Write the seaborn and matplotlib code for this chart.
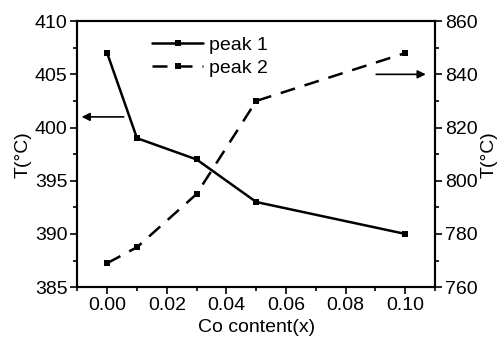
import numpy as np
import pandas as pd
import seaborn as sns
import matplotlib.pyplot as plt
from matplotlib.ticker import MultipleLocator

co = [0.00, 0.01, 0.03, 0.05, 0.10]
peak1 = [407, 399, 397, 393, 390]
peak2 = [769, 775, 795, 830, 848]

sns.set_style('ticks')
plt.rcParams['font.family'] = ['Liberation Sans', 'DejaVu Sans']
plt.rcParams['font.size'] = 14
plt.rcParams['text.color'] = 'black'
plt.rcParams['axes.labelcolor'] = 'black'
plt.rcParams['xtick.color'] = 'black'
plt.rcParams['ytick.color'] = 'black'

fig, ax = plt.subplots(figsize=(4.99, 3.41), dpi=100)
ax2 = ax.twinx()

d1 = pd.DataFrame({'x': co, 'T': peak1})
d2 = pd.DataFrame({'x': co, 'T': peak2})
sns.lineplot(data=d1, x='x', y='T', ax=ax, color='black', lw=1.8,
             marker='s', markersize=4, markeredgewidth=0, label='peak 1', legend=False)
sns.lineplot(data=d2, x='x', y='T', ax=ax2, color='black', lw=1.8,
             marker='s', markersize=4, markeredgewidth=0, label='peak 2', legend=False)
ax2.lines[0].set_dashes([6, 4])

ax.set_xlim(-0.01, 0.11)
ax.set_ylim(385, 410)
ax2.set_ylim(760, 860)
ax.set_xticks([0.00, 0.02, 0.04, 0.06, 0.08, 0.10])
ax.xaxis.set_minor_locator(MultipleLocator(0.01))
ax.yaxis.set_minor_locator(MultipleLocator(2.5))
ax2.yaxis.set_minor_locator(MultipleLocator(10))
ax.set_yticks([385, 390, 395, 400, 405, 410])
ax2.set_yticks([760, 780, 800, 820, 840, 860])
ax.xaxis.set_major_formatter(plt.FuncFormatter(lambda v, p: f'{v:.2f}'))

for a in (ax, ax2):
    for s in a.spines.values():
        s.set_linewidth(1.5)
        s.set_color('black')
    a.tick_params(which='major', length=5, width=1.2, direction='out', labelsize=14, pad=2)
    a.tick_params(which='minor', length=3, width=1.2, direction='out')

ax.set_xlabel('Co content(x)', fontsize=14, labelpad=4)
ax.set_ylabel('T(°C)', fontsize=14, labelpad=2)
ax2.set_ylabel('T(°C)', fontsize=14, labelpad=2)

ax.annotate('', xy=(-0.0095, 401), xytext=(0.0065, 401),
            arrowprops=dict(arrowstyle='-|>', color='black', lw=1.2, mutation_scale=12))
ax2.annotate('', xy=(0.1078, 840), xytext=(0.0893, 840),
             arrowprops=dict(arrowstyle='-|>', color='black', lw=1.2, mutation_scale=12))

h1, l1 = ax.get_legend_handles_labels()
h2, l2 = ax2.get_legend_handles_labels()
ax.legend(h1 + h2, l1 + l2, loc='upper left', bbox_to_anchor=(0.172, 0.995),
          frameon=False, fontsize=14, handlelength=2.6, handletextpad=0.3,
          labelspacing=0.3, borderpad=0.2)

fig.subplots_adjust(left=0.155, right=0.872, top=0.938, bottom=0.158)
fig.savefig('out.png', dpi=100)
